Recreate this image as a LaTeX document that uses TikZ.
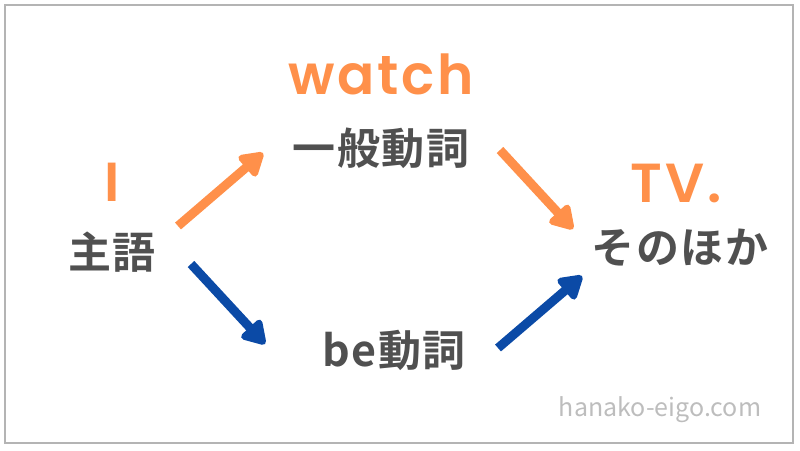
\documentclass[tikz,border=0pt]{standalone}
\usepackage{fontspec}
\setmainfont{Noto Sans CJK JP}
\newfontfamily\jpm{Noto Sans CJK JP Bold}[LetterSpace=4]
\newfontfamily\enb{Poppins SemiBold}[LetterSpace=5]
\usetikzlibrary{arrows.meta}
\definecolor{orng}{HTML}{FF904A}
\definecolor{blu}{HTML}{0B4AA6}
\definecolor{txt}{HTML}{505050}
\definecolor{frm}{HTML}{B4B4B4}
\definecolor{site}{HTML}{BDBDBD}
\begin{document}
\begin{tikzpicture}[x=1pt,y=-1pt,
  jp/.style={text=txt,font=\fontsize{43}{46}\jpm,inner sep=0pt,anchor=center},
  en/.style={text=orng,font=\fontsize{55}{58}\enb,inner sep=0pt,anchor=center},
  arr/.style={line width=9pt,-{Triangle[length=26pt,width=30pt,round]},line join=round},
  oarr/.style={arr,draw=orng},
  barr/.style={arr,draw=blu}]
\path[use as bounding box] (0,0) rectangle (800,450);
\draw[frm,line width=2.5pt] (5,5) rectangle (793,443);
\node[en] (I) at (112,182) {I};
\node[jp] (subj) at (112,252) {主語};
\node[en] (watch) at (381,74) {watch};
\node[jp] (verb) at (381,148) {一般動詞};
\node[en] (tv) at (676,183) {TV.};
\node[jp] (other) at (680,248) {そのほか};
\node[jp] (be) at (394,350) {be動詞};
\node[text=site,font=\fontsize{25}{28}\selectfont,inner sep=0pt] (site) at (660,410) {hanako-eigo.com};
\coordinate (a1s) at (178,226);
\coordinate (a1e) at (263,153);
\coordinate (a2s) at (500,150);
\coordinate (a2e) at (573,229);
\coordinate (a3s) at (191,264);
\coordinate (a3e) at (265,344);
\coordinate (a4s) at (498,348);
\coordinate (a4e) at (582,276);
\draw[oarr] (a1s) -- (a1e);
\draw[oarr] (a2s) -- (a2e);
\draw[barr] (a3s) -- (a3e);
\draw[barr] (a4s) -- (a4e);
\end{tikzpicture}
\end{document}
